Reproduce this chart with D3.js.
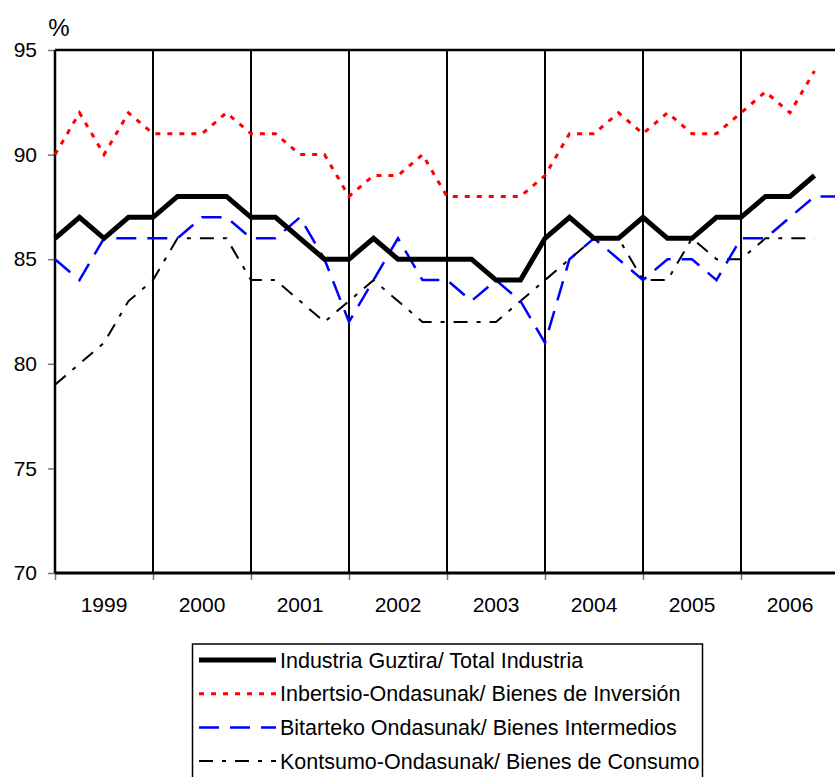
<!DOCTYPE html>
<html lang="es">
<head>
<meta charset="utf-8">
<title>Industria</title>
<style>
  body { margin: 0; background: #fff; }
  svg text { font-family: "Liberation Sans", Arial, sans-serif; fill: #000; }
</style>
</head>
<body>
<svg id="chart" width="835" height="777"></svg>
<script src="https://cdn.jsdelivr.net/npm/d3@7"></script>
<script>
// datos trimestrales 1999-2006
var years = ['1999', '2000', '2001', '2002', '2003', '2004', '2005', '2006'];
var total = [86, 87, 86, 87, 87, 88, 88, 88, 87, 87, 86, 85, 85, 86, 85, 85,
             85, 85, 84, 84, 86, 87, 86, 86, 87, 86, 86, 87, 87, 88, 88, 89];
var inversion = [90, 92, 90, 92, 91, 91, 91, 92, 91, 91, 90, 90, 88, 89, 89, 90,
                 88, 88, 88, 88, 89, 91, 91, 92, 91, 92, 91, 91, 92, 93, 92, 94];
var intermedios = [85, 84, 86, 86, 86, 86, 87, 87, 86, 86, 87, 85, 82, 84, 86, 84,
                   84, 83, 84, 83, 81, 85, 86, 85, 84, 85, 85, 84, 86, 86, 87, 88, 88];
var consumo = [79, 80, 81, 83, 84, 86, 86, 86, 84, 84, 83, 82, 83, 84, 83, 82,
               82, 82, 82, 83, 84, 85, 86, 86, 84, 84, 86, 85, 85, 86, 86, 86];
var yTicks = [70, 75, 80, 85, 90, 95];
var legendLabels = ['Industria Guztira/ Total Industria',
                    'Inbertsio-Ondasunak/ Bienes de Inversión',
                    'Bitarteko Ondasunak/ Bienes Intermedios',
                    'Kontsumo-Ondasunak/ Bienes de Consumo'];

var svg = d3.select('#chart');
var plotLeft = 55, plotTop = 50, plotBottom = 573, plotRight = 839;

var x = d3.scaleLinear().domain([0, years.length * 4]).range([plotLeft, plotRight]);
var y = d3.scaleLinear().domain([70, 95]).range([plotBottom, plotTop]);

var series = [
  {values: total, color: '#000', width: 5, dash: null},
  {values: inversion, color: '#ff0000', width: 3, dash: '5,7'},
  {values: intermedios, color: '#0000ff', width: 2.5, dash: '20,11'},
  {values: consumo, color: '#000', width: 2, dash: '14,9,4,9'}
];

// eje y
var yAxis = svg.append('g')
  .attr('transform', 'translate(' + plotLeft + ',0)')
  .call(d3.axisLeft(y).tickValues(yTicks).tickSize(7).tickPadding(11));
yAxis.select('.domain').remove();
yAxis.selectAll('line').attr('stroke', '#777').attr('stroke-width', 1.5);
yAxis.selectAll('text').style('font-size', '21px').attr('fill', '#000');

svg.append('text')
  .attr('x', 59).attr('y', 36)
  .attr('text-anchor', 'middle')
  .style('font-size', '24px')
  .text('%');

// eje x
var xAxis = svg.append('g')
  .attr('transform', 'translate(0,' + plotBottom + ')')
  .call(d3.axisBottom(x).tickValues(d3.range(0, years.length * 4 + 1, 4)).tickSize(7).tickFormat(''));
xAxis.select('.domain').remove();
xAxis.selectAll('line').attr('stroke', '#777').attr('stroke-width', 1.5);

svg.append('g').selectAll('text')
  .data(years)
  .enter().append('text')
  .attr('x', function(d, i) { return x(i * 4 + 2); })
  .attr('y', 612)
  .attr('text-anchor', 'middle')
  .style('font-size', '21px')
  .text(function(d) { return d; });

// rejilla vertical por año
svg.append('g').selectAll('line')
  .data(d3.range(0, years.length * 4 + 1, 4))
  .enter().append('line')
  .attr('x1', function(d) { return x(d); })
  .attr('x2', function(d) { return x(d); })
  .attr('y1', plotTop).attr('y2', plotBottom)
  .attr('stroke', '#000').attr('stroke-width', 2);

svg.append('line')
  .attr('x1', plotLeft).attr('x2', 835).attr('y1', plotTop).attr('y2', plotTop)
  .attr('stroke', '#000').attr('stroke-width', 2.5);
svg.append('line')
  .attr('x1', plotLeft).attr('x2', 835).attr('y1', plotBottom).attr('y2', plotBottom)
  .attr('stroke', '#000').attr('stroke-width', 3);
svg.append('line')
  .attr('x1', plotLeft).attr('x2', plotLeft).attr('y1', plotTop).attr('y2', plotBottom)
  .attr('stroke', '#000').attr('stroke-width', 2.5);

// series
var line = d3.line()
  .x(function(d, i) { return x(i); })
  .y(function(d) { return y(d); });

svg.append('g').selectAll('path')
  .data(series.slice().reverse())
  .enter().append('path')
  .attr('d', function(d) { return line(d.values); })
  .attr('fill', 'none')
  .attr('stroke', function(d) { return d.color; })
  .attr('stroke-width', function(d) { return d.width; })
  .attr('stroke-dasharray', function(d) { return d.dash; })
  .attr('stroke-linejoin', 'miter');

// leyenda
var legend = svg.append('g');
legend.append('rect')
  .attr('x', 192.5).attr('y', 644)
  .attr('width', 510).attr('height', 150)
  .attr('fill', '#fff').attr('stroke', '#000').attr('stroke-width', 1.5);

var item = legend.selectAll('g.item')
  .data(series)
  .enter().append('g')
  .attr('class', 'item')
  .attr('transform', function(d, i) { return 'translate(0,' + (660 + i * 33.7) + ')'; });

item.append('line')
  .attr('x1', 199).attr('x2', 276)
  .attr('stroke', function(d) { return d.color; })
  .attr('stroke-width', function(d) { return d.width; })
  .attr('stroke-dasharray', function(d) { return d.dash; });

item.append('text')
  .attr('x', 280).attr('dy', '0.36em')
  .style('font-size', '21.5px')
  .text(function(d, i) { return legendLabels[i]; });
</script>
</body>
</html>
